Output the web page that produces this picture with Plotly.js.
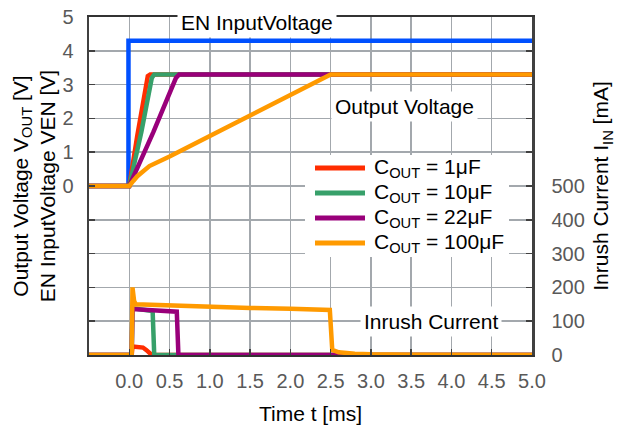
<!DOCTYPE html>
<html><head><meta charset="utf-8">
<script src="https://cdn.plot.ly/plotly-3.0.1.min.js"></script>
<style>body{margin:0;background:#fff}#c{width:627px;height:427px}</style>
</head><body><div id="c"></div>
<script>
// ---- data ----
const legendNames = ['C<sub>OUT</sub> = 1μF','C<sub>OUT</sub> = 10μF','C<sub>OUT</sub> = 22μF','C<sub>OUT</sub> = 100μF'];
const colors = ['#ff2d00','#37a06a','#99007a','#ff9a00'];
const enColor = '#0050ff';

const tEN = [-0.5, -0.01, -0.01, 5.0];
const vEN = [0, 0, 4.3, 4.3];

const tV1 = [-0.5, 0, 0.1, 0.2, 0.23, 0.26, 5.0];
const vV1 = [0, 0, 1.5, 3.0, 3.25, 3.3, 3.3];
const tV10 = [-0.5, 0, 0.15, 0.28, 0.31, 5.0];
const vV10 = [0, 0, 1.6, 3.2, 3.3, 3.3];
const tV22 = [-0.5, 0, 0.3, 0.58, 0.62, 5.0];
const vV22 = [0, 0, 1.6, 3.2, 3.3, 3.3];
const tV100 = [-0.5, 0, 0.05, 0.1, 0.25, 0.5, 1.0, 1.5, 2.0, 2.5, 5.0];
const vV100 = [0, 0, 0.15, 0.29, 0.59, 0.87, 1.48, 2.08, 2.69, 3.3, 3.3];

const tI1 = [-0.5, 0.03, 0.04, 0.12, 0.17, 0.21, 0.25, 0.28, 5.0];
const iI1 = [0, 0, 25, 25, 22, 15, 6, 0, 0];
const tI10 = [-0.5, 0.03, 0.04, 0.1, 0.28, 0.29, 0.31, 5.0];
const iI10 = [0, 0, 138, 136, 133, 130, 0, 0];
const tI22 = [-0.5, 0.03, 0.04, 0.3, 0.59, 0.61, 5.0];
const iI22 = [0, 0, 136, 133, 128, 0, 0];
const tI100 = [-0.5, 0.03, 0.04, 0.06, 0.08, 0.2, 0.5, 1.0, 1.5, 2.0, 2.45, 2.49, 2.52, 2.6, 2.8, 3.0, 3.5, 5.0];
const iI100 = [0, 0, 200, 160, 150, 149, 146, 142, 139, 137, 134, 133, 15, 8, 4, 2, 1, 0];

const xTicks = [0, 0.5, 1.0, 1.5, 2.0, 2.5, 3.0, 3.5, 4.0, 4.5, 5.0];
const yTicksLeft = [-5,-4,-3,-2,-1,0,1,2,3,4,5];
const yTextLeft = ['','','','','','0','1','2','3','4','5'];
const yTicksRight = [0,100,200,300,400,500,600,700,800,900,1000];
const yTextRight = ['0','100','200','300','400','500','','','','',''];

// ---- traces ----
const vT = [tV1, tV10, tV22, tV100], vV = [vV1, vV10, vV22, vV100];
const iT = [tI1, tI10, tI22, tI100], iV = [iI1, iI10, iI22, iI100];
const traces = [];
traces.push({x: tEN, y: vEN, mode: 'lines', line: {color: enColor, width: 4.5}, showlegend: false, yaxis: 'y'});
for (let k = 0; k < 4; k++) {
  traces.push({x: vT[k], y: vV[k], mode: 'lines', name: legendNames[k], showlegend: false,
    line: {color: colors[k], width: 4.5}, yaxis: 'y'});
  traces.push({x: iT[k], y: iV[k], mode: 'lines', name: legendNames[k], showlegend: false,
    line: {color: colors[k], width: 4.5}, yaxis: 'y2'});
}

// ---- manual legend (layout, pixel positions converted to paper) ----
const PL = 89, PW = 443, PB = 355, PH = 338;
const px = p => (p - PL) / PW, py = p => (PB - p) / PH;
const legRowsY = [168, 193, 218, 243];
const F = '"Liberation Sans", Arial, sans-serif';
const shapes = [
  {type: 'rect', xref: 'paper', yref: 'paper', x0: px(305), x1: px(509), y0: py(257), y1: py(155),
    fillcolor: '#fff', line: {width: 0}, layer: 'above'}
];
const annotations = [
  {x: 1.58, y: 4.84, xref: 'x', yref: 'y', text: 'EN InputVoltage', showarrow: false,
    bgcolor: '#fff', borderpad: 3, font: {family: F, size: 21, color: '#000'}},
  {x: 3.42, y: 2.34, xref: 'x', yref: 'y', text: 'Output Voltage', showarrow: false,
    bgcolor: '#fff', borderpad: 3, font: {family: F, size: 21, color: '#000'}},
  {x: 3.75, y: 98, xref: 'x', yref: 'y2', text: 'Inrush Current', showarrow: false,
    bgcolor: '#fff', borderpad: 3, font: {family: F, size: 21, color: '#000'}}
];
for (let k = 0; k < 4; k++) {
  shapes.push({type: 'line', xref: 'paper', yref: 'paper', x0: px(315), x1: px(365), y0: py(legRowsY[k]), y1: py(legRowsY[k]),
    line: {color: colors[k], width: 5}, layer: 'above'});
  annotations.push({x: px(372), y: py(legRowsY[k]), xref: 'paper', yref: 'paper', xanchor: 'left', yanchor: 'middle',
    text: legendNames[k], showarrow: false, font: {family: F, size: 21, color: '#000'}});
}

const layout = {
  width: 627, height: 427,
  margin: {l: 89, r: 95, t: 17, b: 72},
  paper_bgcolor: '#fff', plot_bgcolor: '#fff',
  font: {family: F, size: 20, color: '#000'},
  showlegend: false,
  xaxis: {range: [-0.5, 5.0], tickvals: xTicks, ticktext: xTicks.map(v => v.toFixed(1)),
    ticks: 'inside', ticklen: 6, tickwidth: 1.5, tickcolor: '#404040',
    showgrid: true, gridcolor: '#a3a8ad', gridwidth: 1.5, zeroline: false,
    showline: true, mirror: true, linecolor: '#333', linewidth: 2,
    tickfont: {family: F, size: 20, color: '#595959'}, ticklabelstandoff: 7,
    title: {text: 'Time t [ms]', font: {family: F, size: 21, color: '#000'}, standoff: 15}},
  yaxis: {range: [-5, 5], tickvals: yTicksLeft, ticktext: yTextLeft,
    ticks: 'inside', ticklen: 6, tickwidth: 1.5, tickcolor: '#404040',
    showgrid: true, gridcolor: '#a3a8ad', gridwidth: 1.5, zeroline: false,
    showline: true, linecolor: '#404040', linewidth: 2.5,
    tickfont: {family: F, size: 20, color: '#595959'}, ticklabelstandoff: 9,
    title: {text: 'Output Voltage V<sub>OUT</sub> [V]<br>EN InputVoltage VEN [V]', font: {family: F, size: 21, color: '#000'}, standoff: 1}},
  yaxis2: {range: [0, 1000], overlaying: 'y', side: 'right', tickvals: yTicksRight, ticktext: yTextRight,
    ticks: 'inside', ticklen: 6, tickwidth: 1.5, tickcolor: '#404040',
    showgrid: false, zeroline: false,
    showline: true, linecolor: '#404040', linewidth: 2.5,
    tickfont: {family: F, size: 20, color: '#595959'}, ticklabelstandoff: 13,
    title: {text: 'Inrush Current I<sub>IN</sub> [mA]', font: {family: F, size: 21, color: '#000'}, standoff: 10}},
  shapes: shapes,
  annotations: annotations
};
Plotly.newPlot('c', traces, layout, {displayModeBar: false, staticPlot: true});
</script></body></html>
